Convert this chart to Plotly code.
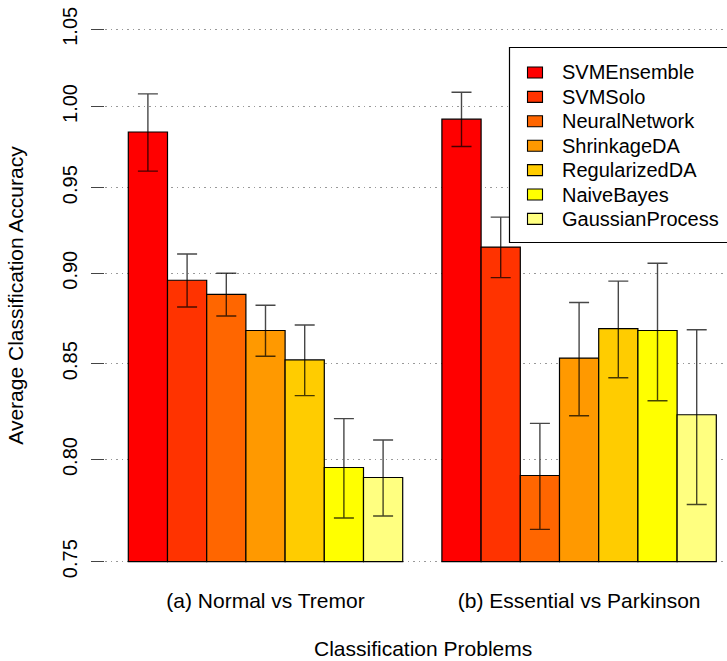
import math
import plotly.graph_objects as go

# Classification problems (x categories)
problems = ["(a) Normal vs Tremor", "(b) Essential vs Parkinson"]

# Methods and their fill colours (R heat.colors(7))
methods = ["SVMEnsemble", "SVMSolo", "NeuralNetwork", "ShrinkageDA",
           "RegularizedDA", "NaiveBayes", "GaussianProcess"]
colors = ["#FF0000", "#FF3300", "#FF6600", "#FF9900",
          "#FFCC00", "#FFFF00", "#FFFF80"]

# Mean accuracy per method, one value per problem
acc_svm_ensemble = [0.984, 0.992]
acc_svm_solo = [0.896, 0.915]
acc_neural_net = [0.888, 0.792]
acc_shrinkage_da = [0.868, 0.853]
acc_regularized_da = [0.852, 0.869]
acc_naive_bayes = [0.796, 0.868]
acc_gaussian_proc = [0.791, 0.823]

# Error-bar half widths
err_svm_ensemble = [0.024, 0.017]
err_svm_solo = [0.015, 0.0175]
err_neural_net = [0.012, 0.0265]
err_shrinkage_da = [0.014, 0.0305]
err_regularized_da = [0.019, 0.0265]
err_naive_bayes = [0.025, 0.0377]
err_gaussian_proc = [0.019, 0.0454]

accuracies = [acc_svm_ensemble, acc_svm_solo, acc_neural_net, acc_shrinkage_da,
              acc_regularized_da, acc_naive_bayes, acc_gaussian_proc]
errors = [err_svm_ensemble, err_svm_solo, err_neural_net, err_shrinkage_da,
          err_regularized_da, err_naive_bayes, err_gaussian_proc]

y_ticks = [0.75, 0.80, 0.85, 0.90, 0.95, 1.00, 1.05]
y_ticktext = ["0.75", "0.80", "0.85", "0.90", "0.95", "1.00", "1.05"]
bar_floor = y_ticks[0]  # bars rise from the lowest tick

FONT = "Liberation Sans, Arial, Helvetica, sans-serif"
FS = 20
FS_LAB = 21
W, H = 727, 661
ML, MR, MT, MB = 105, 0, 8, 78
plot_w = W - ML - MR
plot_h = H - MT - MB

# log-scale y range with a 4% padding around the tick span
lo, hi = math.log10(y_ticks[0]), math.log10(y_ticks[-1])
pad = (hi - lo) * 0.04
y_range = [lo - pad, hi + pad]

fig = go.Figure()
for name, col, acc, err in zip(methods, colors, accuracies, errors):
    fig.add_trace(go.Bar(
        x=problems,
        y=[a - bar_floor for a in acc],
        base=bar_floor,
        name=name,
        customdata=acc,
        hovertemplate="%{customdata:.3f}<extra>" + name + "</extra>",
        marker=dict(color=col, line=dict(color="black", width=1.2)),
        error_y=dict(type="data", array=err, symmetric=True,
                     color="rgba(0,0,0,0.72)", thickness=1.4, width=10),
        showlegend=False,
    ))

# y axis line only between the first and last tick
fig.add_shape(type="line", xref="paper", yref="y", x0=0, x1=0,
              y0=lo, y1=hi, line=dict(color="black", width=1.2))


def px_x(px):
    return (px - ML) / plot_w


def px_y(py):
    return (H - MB - py) / plot_h


# Legend box
fig.add_shape(type="rect", xref="paper", yref="paper", layer="above",
              x0=px_x(509.5), x1=px_x(740), y0=px_y(242.5), y1=px_y(47.5),
              line=dict(color="black", width=1.2), fillcolor="white")
row0, row_step = 72.5, 24.4
for i, (name, col) in enumerate(zip(methods, colors)):
    cy = row0 + i * row_step
    fig.add_shape(type="rect", xref="paper", yref="paper", layer="above",
                  x0=px_x(527.5), x1=px_x(542.5), y0=px_y(cy + 5.5), y1=px_y(cy - 5.5),
                  line=dict(color="black", width=1.1), fillcolor=col)
    fig.add_annotation(xref="paper", yref="paper", x=px_x(560), y=px_y(cy),
                       text=name, showarrow=False, xanchor="left", yanchor="middle",
                       font=dict(family=FONT, size=FS, color="black"))

# x axis title, centred on the full bar region (which runs past the right edge)
fig.add_annotation(xref="paper", yref="paper", x=px_x(423), y=px_y(648),
                   text="Classification Problems", showarrow=False,
                   xanchor="center", yanchor="middle",
                   font=dict(family=FONT, size=FS_LAB, color="black"))

fig.update_layout(
    width=W, height=H,
    margin=dict(l=ML, r=MR, t=MT, b=MB, pad=0),
    paper_bgcolor="white", plot_bgcolor="white",
    barmode="group", bargap=0.125, bargroupgap=0,
    font=dict(family=FONT, size=FS, color="black"),
    xaxis=dict(
        type="category", range=[-0.5118, 1.4716],
        showline=False, ticks="", showgrid=False, zeroline=False,
        tickfont=dict(family=FONT, size=FS_LAB, color="black"),
        ticklabelstandoff=3,
    ),
    yaxis=dict(
        type="log", range=y_range,
        tickvals=y_ticks, ticktext=y_ticktext, tickangle=-90,
        ticks="outside", ticklen=13, tickwidth=1.2, tickcolor="#444",
        ticklabelstandoff=6,
        showline=False, zeroline=False,
        showgrid=True, gridcolor="#999", griddash="1.5px,4px", gridwidth=1,
        tickfont=dict(family=FONT, size=FS, color="black"),
        title=dict(text="Average Classification Accuracy", standoff=29,
                   font=dict(family=FONT, size=FS_LAB, color="black")),
    ),
)

fig.write_html("out.html", config={"displayModeBar": False})
